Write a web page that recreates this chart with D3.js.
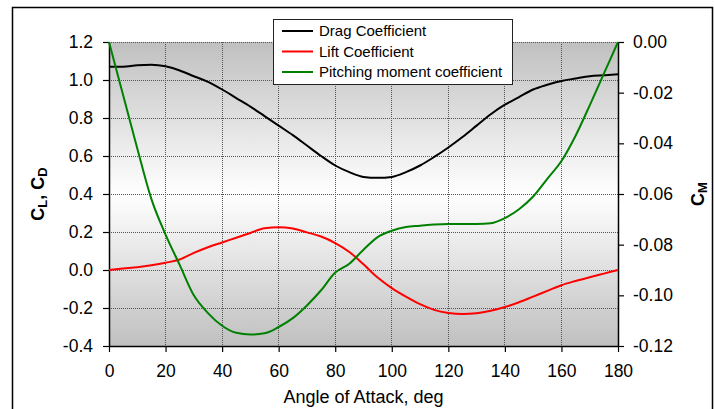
<!DOCTYPE html>
<html>
<head>
<meta charset="utf-8">
<script src="https://cdn.jsdelivr.net/npm/d3@7"></script>
<style>
  body { margin: 0; background: #fff; }
  svg { display: block; font-family: "Liberation Sans", Arial, sans-serif; }
</style>
</head>
<body>
<div id="chart"></div>
<script>
// angle of attack, deg
const angles = [0, 5, 10, 15, 20, 25, 30, 35, 40, 45, 50, 55, 60, 65, 70, 75, 80, 85, 90,
  95, 100, 105, 110, 115, 120, 125, 130, 135, 140, 145, 150, 155, 160, 165, 170, 175, 180];

const dragCoef = [1.07, 1.07, 1.078, 1.08, 1.072, 1.05, 1.02, 0.99, 0.95, 0.905, 0.86, 0.81, 0.76,
  0.71, 0.655, 0.60, 0.55, 0.515, 0.49, 0.485, 0.49, 0.515, 0.55, 0.595, 0.645, 0.70, 0.76,
  0.82, 0.87, 0.91, 0.95, 0.975, 0.995, 1.008, 1.02, 1.025, 1.03];

const liftCoef = [0, 0.008, 0.015, 0.025, 0.038, 0.055, 0.09, 0.12, 0.145, 0.17, 0.195, 0.22, 0.225,
  0.218, 0.198, 0.176, 0.142, 0.095, 0.03, -0.04, -0.095, -0.14, -0.18, -0.21, -0.226, -0.232,
  -0.228, -0.215, -0.195, -0.17, -0.14, -0.11, -0.08, -0.058, -0.038, -0.019, 0];

const momentCoef = [0, -0.021, -0.042, -0.062, -0.076, -0.088, -0.1, -0.107, -0.112, -0.1148,
  -0.1155, -0.115, -0.1125, -0.109, -0.104, -0.098, -0.091, -0.0875, -0.082, -0.077, -0.0745,
  -0.073, -0.0725, -0.072, -0.0718, -0.0718, -0.0718, -0.0715, -0.0695, -0.066, -0.061, -0.054,
  -0.047, -0.037, -0.025, -0.0125, 0];

const xTicks = d3.range(0, 181, 20);
const leftTicks = [-0.4, -0.2, 0, 0.2, 0.4, 0.6, 0.8, 1.0, 1.2];
const rightTicks = [-0.12, -0.10, -0.08, -0.06, -0.04, -0.02, 0];

const seriesNames = ["Drag Coefficient", "Lift Coefficient", "Pitching moment coefficient"];
const seriesColors = ["#000000", "#ff0000", "#008000"];

const width = 715, height = 409;
const plot = { left: 109, right: 618, top: 42, bottom: 346 };

const svg = d3.select("#chart").append("svg")
  .attr("width", width)
  .attr("height", height);

// outer chart frame
svg.append("rect")
  .attr("x", 12.5).attr("y", 7.5)
  .attr("width", 700).attr("height", 420)
  .attr("fill", "#fff")
  .attr("stroke", "#000")
  .attr("stroke-width", 1.5);

const x = d3.scaleLinear().domain([0, 180]).range([plot.left, plot.right]);
const yL = d3.scaleLinear().domain([-0.4, 1.2]).range([plot.bottom, plot.top]);
const yR = d3.scaleLinear().domain([-0.12, 0]).range([plot.bottom, plot.top]);

// plot background gradient
const grad = svg.append("defs").append("linearGradient")
  .attr("id", "bg").attr("x1", 0).attr("y1", 0).attr("x2", 0).attr("y2", 1);
grad.append("stop").attr("offset", "0%").attr("stop-color", "#c0c0c0");
grad.append("stop").attr("offset", "50%").attr("stop-color", "#ffffff");
grad.append("stop").attr("offset", "100%").attr("stop-color", "#c0c0c0");

svg.append("rect")
  .attr("x", plot.left).attr("y", plot.top)
  .attr("width", plot.right - plot.left)
  .attr("height", plot.bottom - plot.top)
  .attr("fill", "url(#bg)");

// grid
const grid = svg.append("g")
  .attr("stroke", "#555")
  .attr("stroke-width", 1)
  .attr("stroke-dasharray", "1,1")
  .attr("shape-rendering", "crispEdges");

grid.selectAll(".vgrid")
  .data(xTicks.slice(1, -1))
  .join("line")
  .attr("x1", d => x(d)).attr("x2", d => x(d))
  .attr("y1", plot.top).attr("y2", plot.bottom);

grid.selectAll(".hgrid")
  .data(leftTicks.slice(1))
  .join("line")
  .attr("x1", plot.left).attr("x2", plot.right)
  .attr("y1", d => yL(d)).attr("y2", d => yL(d));

// axes
const fmt1 = d3.format(".1f");
const fmt2 = d3.format(".2f");
const minusFix = s => s.replace("\u2212", "-");

const xAxis = svg.append("g")
  .attr("transform", `translate(0,${plot.bottom})`)
  .call(d3.axisBottom(x).tickValues(xTicks).tickSize(6).tickSizeOuter(0).tickPadding(9));

const leftAxis = svg.append("g")
  .attr("transform", `translate(${plot.left},0)`)
  .call(d3.axisLeft(yL).tickValues(leftTicks).tickSize(6).tickSizeOuter(0).tickPadding(10)
    .tickFormat(d => minusFix(fmt1(d))));

const rightAxis = svg.append("g")
  .attr("transform", `translate(${plot.right},0)`)
  .call(d3.axisRight(yR).tickValues(rightTicks).tickSize(6).tickSizeOuter(0).tickPadding(9)
    .tickFormat(d => minusFix(fmt2(d))));

[xAxis, leftAxis, rightAxis].forEach(a => {
  a.select(".domain").attr("stroke", "#000").attr("stroke-width", 1.5);
  a.selectAll(".tick line").attr("stroke", "#000").attr("stroke-width", 1.2);
  a.selectAll(".tick text")
    .attr("fill", "#000")
    .style("font-size", "17.5px")
    .style("font-family", "'Liberation Sans', Arial, sans-serif");
});
xAxis.selectAll(".tick text").attr("dy", "0.9em");

// series lines
const series = [dragCoef, liftCoef, momentCoef];
const scales = [yL, yL, yR];

series.forEach((vals, i) => {
  const line = d3.line()
    .x((d, j) => x(angles[j]))
    .y(d => scales[i](d))
    .curve(d3.curveMonotoneX);
  svg.append("path")
    .datum(vals)
    .attr("fill", "none")
    .attr("stroke", seriesColors[i])
    .attr("stroke-width", 2)
    .attr("d", line);
});

// axis titles
svg.append("text")
  .attr("transform", `translate(${x(90)},${403})`)
  .attr("text-anchor", "middle")
  .style("font-size", "18px")
  .text("Angle of Attack, deg");

const lt = svg.append("text")
  .attr("transform", `translate(44,${yL(0.4)}) rotate(-90)`)
  .attr("text-anchor", "middle")
  .style("font-size", "18px")
  .style("font-weight", "bold");
lt.append("tspan").text("C");
lt.append("tspan").attr("dy", 3).style("font-size", "13px").text("L");
lt.append("tspan").attr("dy", -3).text(", C");
lt.append("tspan").attr("dy", 3).style("font-size", "13px").text("D");

const rt = svg.append("text")
  .attr("transform", `translate(704,${yL(0.4)}) rotate(-90)`)
  .attr("text-anchor", "middle")
  .style("font-size", "18px")
  .style("font-weight", "bold");
rt.append("tspan").text("C");
rt.append("tspan").attr("dy", 3).style("font-size", "13px").text("M");

// legend
const legend = svg.append("g").attr("transform", "translate(273,19)");
legend.append("rect")
  .attr("x", 0.5).attr("y", 0.5)
  .attr("width", 239).attr("height", 65)
  .attr("fill", "#fff")
  .attr("stroke", "#222")
  .attr("stroke-width", 1);

const items = legend.selectAll(".item")
  .data(seriesNames)
  .join("g")
  .attr("transform", (d, i) => `translate(0,${12 + i * 20.5})`);

items.append("line")
  .attr("x1", 9).attr("x2", 40)
  .attr("stroke", (d, i) => seriesColors[i])
  .attr("stroke-width", 2);

items.append("text")
  .attr("x", 46)
  .attr("dy", "0.36em")
  .style("font-size", "15px")
  .text(d => d);
</script>
</body>
</html>
